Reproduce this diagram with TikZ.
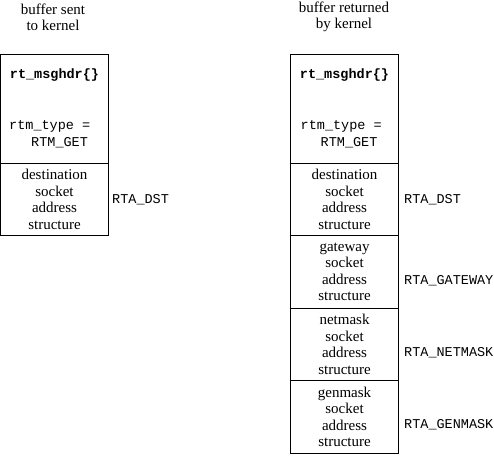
\documentclass[tikz,border=0pt]{standalone}
\usepackage{fontspec}
\setmainfont{Liberation Serif}
\setmonofont{Liberation Mono}
\begin{document}
\begin{tikzpicture}[x=1pt,y=-1pt,
  box/.style={draw, line width=1pt, minimum width=108pt, inner sep=0pt, outer sep=0pt, anchor=north west},
  sect/.style={box, minimum height=72.5pt, align=center, font=\fontsize{15}{16.5}\selectfont},
  lbl/.style={anchor=west, inner sep=0pt, font=\ttfamily\fontsize{13.5}{16}\selectfont},
  hdr/.style={inner sep=0pt, font=\ttfamily\bfseries\fontsize{13.5}{16}\selectfont},
  fld/.style={anchor=west, inner sep=0pt, font=\ttfamily\fontsize{13.5}{16}\selectfont},
  ttl/.style={align=center, inner sep=0pt, font=\fontsize{15}{16}\selectfont}]
\useasboundingbox (0,0) rectangle (494,455);
% titles
\node[ttl] (t1) at (53,17) {buffer sent\\to kernel};
\node[ttl] (t2) at (344,17) {buffer returned\\by kernel};
% left buffer
\node[box, minimum height=109pt] (lh) at (0.5,54) {};
\node[sect] (ls1) at (lh.south west) {destination\\socket\\address\\structure};
\node[hdr] (lm) at (54.5,75) {rt\_msghdr\{\}};
\node[fld] (lt) at (9,126) {rtm\_type =};
\node[fld] (lg) at (31,143) {RTM\_GET};
\node[lbl] (la1) at (112,200) {RTA\_DST};
% right buffer
\node[box, minimum height=109pt] (rh) at (290.5,54) {};
\node[sect] (rs1) at (rh.south west) {destination\\socket\\address\\structure};
\node[sect] (rs2) at (rs1.south west) {gateway\\socket\\address\\structure};
\node[sect] (rs3) at (rs2.south west) {netmask\\socket\\address\\structure};
\node[sect] (rs4) at (rs3.south west) {genmask\\socket\\address\\structure};
\node[hdr] (rm) at (344.5,75) {rt\_msghdr\{\}};
\node[fld] (rt) at (300.5,126) {rtm\_type =};
\node[fld] (rg) at (320.5,143) {RTM\_GET};
\node[lbl] (ra1) at (404,200) {RTA\_DST};
\node[lbl] (ra2) at (404,281) {RTA\_GATEWAY};
\node[lbl] (ra3) at (404,353) {RTA\_NETMASK};
\node[lbl] (ra4) at (404,425) {RTA\_GENMASK};
\end{tikzpicture}
\end{document}
